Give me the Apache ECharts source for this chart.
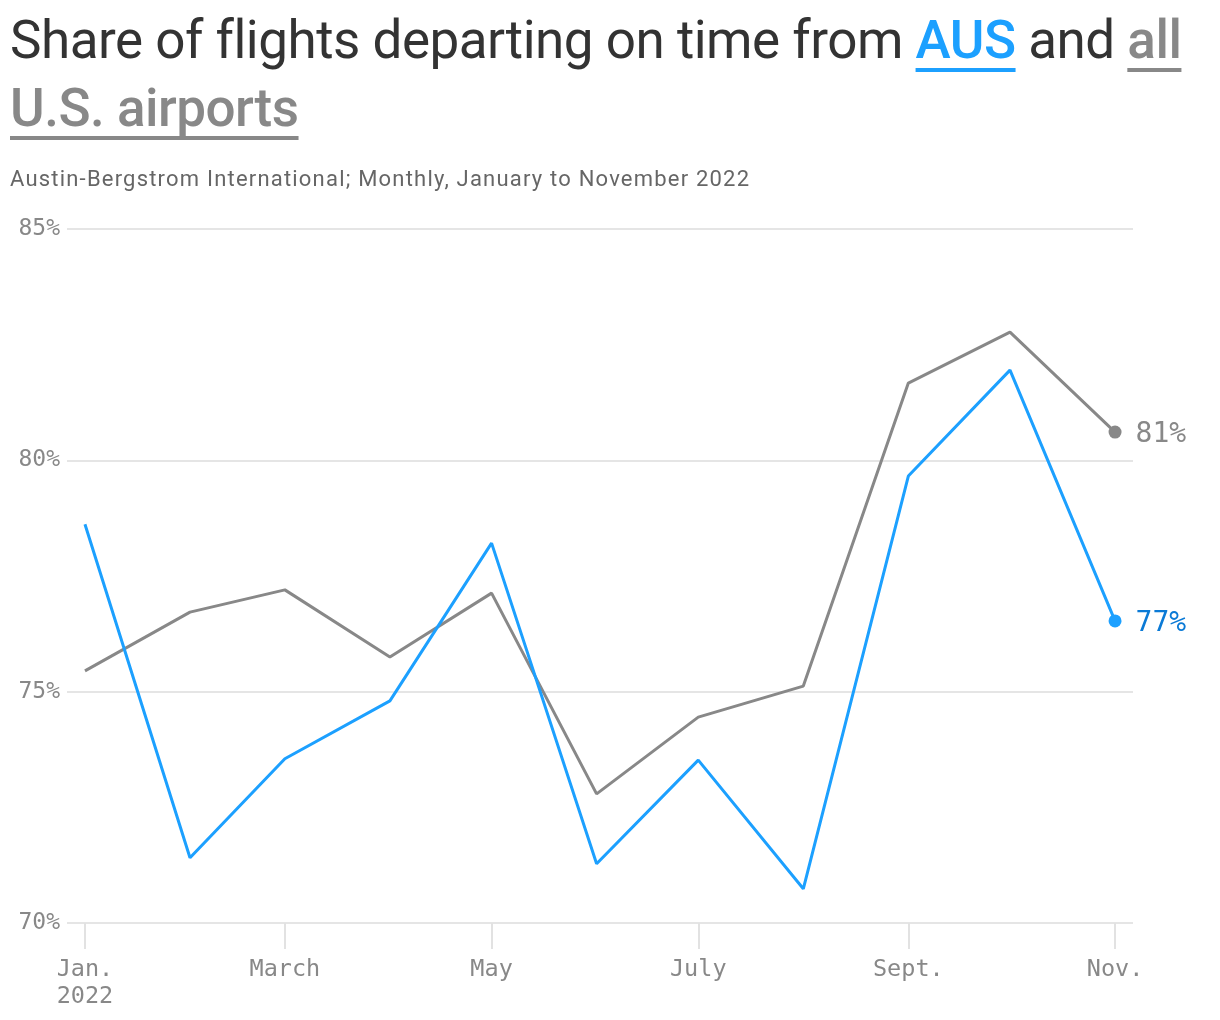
<!DOCTYPE html>
<html>
<head>
<meta charset="utf-8">
<script src="https://cdn.jsdelivr.net/npm/echarts@6/dist/echarts.min.js"></script>
<style>
  html, body { margin: 0; padding: 0; background: #fff; }
  #chart { position: absolute; left: 0; top: 0; width: 1220px; height: 1020px; }
  #title { position: absolute; left: 10px; top: 6px; font-family: Roboto, "Noto Sans", sans-serif; font-size: 53px; line-height: 68px; color: #333; white-space: nowrap; letter-spacing: -0.5px; z-index: 2; }
  #title .aus, #title .all { font-weight: 500; text-decoration: underline; text-decoration-thickness: 4px; text-underline-offset: 10px; text-decoration-skip-ink: none; }
  #title .aus { color: #1ca0ff; text-decoration-color: #1ca0ff; }
  #title .all { color: #888; text-decoration-color: #888; }
  #sub { position: absolute; left: 10px; top: 166px; font-family: Roboto, "Noto Sans", sans-serif; font-size: 22px; letter-spacing: 1.2px; color: #666; white-space: nowrap; z-index: 2; }
</style>
</head>
<body>
<div id="chart"></div>
<div id="title">Share of flights departing on time from <span class="aus">AUS</span> and <span class="all">all</span><br><span class="all">U.S. airports</span></div>
<div id="sub">Austin-Bergstrom International; Monthly, January to November 2022</div>
<script>
// Months (first of each month, 2022)
const months = ['2022-01-01','2022-02-01','2022-03-01','2022-04-01','2022-05-01','2022-06-01','2022-07-01','2022-08-01','2022-09-01','2022-10-01','2022-11-01'];
// Share of flights departing on time (%)
const ausValues = [78.62, 71.41, 73.55, 74.80, 78.21, 71.28, 73.52, 70.74, 79.66, 81.95, 76.53];
const usValues  = [75.45, 76.72, 77.20, 75.75, 77.13, 72.79, 74.45, 75.12, 81.67, 82.77, 80.61];
// X tick dates and labels
const tickDates  = ['2022-01-01','2022-03-01','2022-05-01','2022-07-01','2022-09-01','2022-11-01'];
const tickLabels = ['Jan.\n2022','March','May','July','Sept.','Nov.'];
// Y ticks
const yMin = 70, yMax = 85, yStep = 5;

const DAY = 86400000;
const t0 = Date.parse('2022-01-01T00:00:00Z');
const dayOf = s => Math.round((Date.parse(s + 'T00:00:00Z') - t0) / DAY);
const tickDays = tickDates.map(dayOf);

const AUS_COLOR = '#1ca0ff';
const US_COLOR = '#888888';
const MONO = '"DejaVu Sans Mono", "Liberation Mono", monospace';

function buildSeries(vals, labelColor) {
  return vals.map((v, i) => {
    const item = { value: [dayOf(months[i]), v] };
    if (i === vals.length - 1) {
      item.symbol = 'circle';
      item.symbolSize = 13;
      item.label = {
        show: true, position: 'right', distance: 14, offset: [0, 3],
        color: labelColor, fontFamily: MONO, fontSize: 28,
        formatter: p => Math.round(p.value[1]) + '%'
      };
    }
    return item;
  });
}

const chart = echarts.init(document.getElementById('chart'), null, { renderer: 'canvas' });
chart.setOption({
  animation: false,
  grid: { left: 67, right: 87, top: 229, bottom: 97, containLabel: false },
  xAxis: {
    type: 'value',
    min: dayOf(months[0]) - 5.3,
    max: dayOf(months[months.length - 1]) + 5.3,
    axisLine: { show: false },
    splitLine: { show: false },
    axisTick: { show: true, customValues: tickDays, length: 26, lineStyle: { color: '#e2e2e2', width: 2 } },
    axisLabel: {
      customValues: tickDays,
      margin: 33,
      color: '#888', fontFamily: MONO, fontSize: 23.5, lineHeight: 27,
      align: 'center', verticalAlign: 'top',
      formatter: v => { const i = tickDays.indexOf(Math.round(v)); return i >= 0 ? tickLabels[i] : ''; }
    }
  },
  yAxis: {
    type: 'value', min: yMin, max: yMax, interval: yStep,
    axisLine: { show: false }, axisTick: { show: false },
    splitLine: { show: true, lineStyle: { color: '#e5e5e5', width: 2 } },
    axisLabel: { margin: 7, color: '#888', fontFamily: MONO, fontSize: 23, verticalAlign: 'middle', padding: [7, 0, 0, 0], formatter: '{value}%' }
  },
  series: [
    {
      name: 'All U.S. airports', type: 'line', symbol: 'none', showSymbol: true,
      lineStyle: { color: US_COLOR, width: 3 }, itemStyle: { color: US_COLOR },
      data: buildSeries(usValues, '#888888'), z: 2
    },
    {
      name: 'AUS', type: 'line', symbol: 'none', showSymbol: true,
      lineStyle: { color: AUS_COLOR, width: 3 }, itemStyle: { color: AUS_COLOR },
      data: buildSeries(ausValues, '#0b7ad6'), z: 3
    }
  ]
});
</script>
</body>
</html>
